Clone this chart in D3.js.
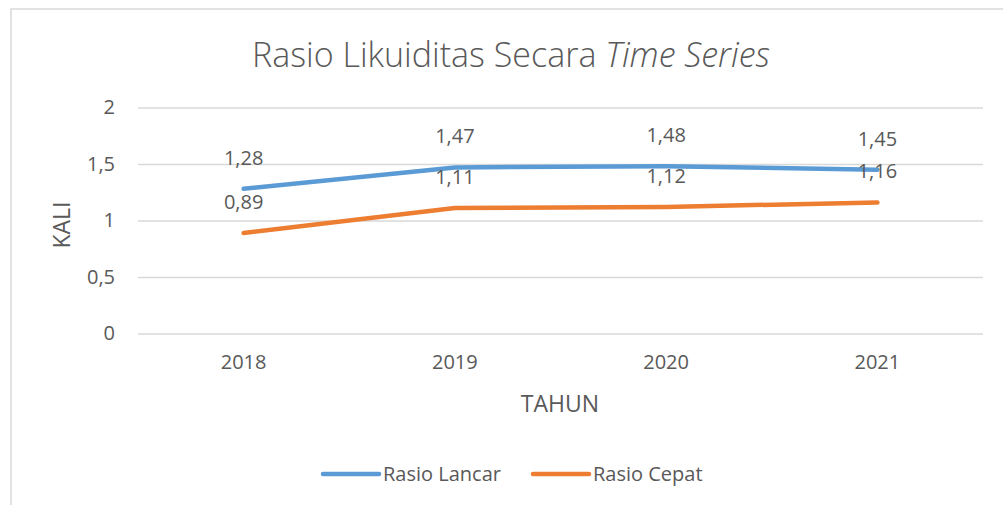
<!DOCTYPE html>
<html>
<head>
<meta charset="utf-8">
<script src="https://cdn.jsdelivr.net/npm/d3@7"></script>
<style>
  body { margin: 0; background: #fff; }
  text { font-family: "Open Sans", sans-serif; fill: #595959; }
</style>
</head>
<body>
<svg id="chart" width="1003" height="505"></svg>
<script>
const years = ["2018", "2019", "2020", "2021"];
const rasioLancar = [1.28, 1.47, 1.48, 1.45];
const rasioCepat = [0.89, 1.11, 1.12, 1.16];
const yTicks = [0, 0.5, 1, 1.5, 2];
const seriesNames = ["Rasio Lancar", "Rasio Cepat"];
const colors = ["#5B9BD5", "#ED7D31"];

let margin = { top: 107.5, left: 138, right: 20, bottom: 171.5 };
let svgWidth = 1003, svgHeight = 505;
let width = svgWidth - margin.left - margin.right,
  height = svgHeight - margin.top - margin.bottom;

const svg = d3.select("#chart");
const fmt = (v) => String(v).replace(".", ",");

// chart border (right and bottom edges run off the picture)
svg.append("rect")
  .attr("x", 11).attr("y", 9)
  .attr("width", 1010).attr("height", 510)
  .attr("fill", "none")
  .attr("stroke", "#d9d9d9")
  .attr("stroke-width", 1.5);

// title
const title = svg.append("text")
  .attr("x", 511).attr("y", 67)
  .attr("text-anchor", "middle")
  .attr("font-size", "34px")
  .attr("font-weight", 300);
title.append("tspan").text("Rasio Likuiditas Secara ");
title.append("tspan").attr("font-style", "italic").text("Time Series");

const g = svg.append("g")
  .attr("transform", "translate(" + margin.left + "," + margin.top + ")");

let x = d3.scaleBand().domain(years).range([0, width]);
let y = d3.scaleLinear().domain([0, 2]).range([height, 0]);
const cx = (d) => x(d) + x.bandwidth() / 2;

// y axis + gridlines
const yAxis = g.append("g")
  .call(d3.axisLeft(y).tickValues(yTicks).tickFormat(fmt).tickSize(-width).tickPadding(23));
yAxis.select(".domain").remove();
yAxis.selectAll("line").attr("stroke", "#d9d9d9").attr("stroke-width", 1.3);
yAxis.selectAll("text").attr("font-size", "20px").attr("fill", "#595959")
  .style("font-family", "'Open Sans', sans-serif");

// x axis labels
const xAxis = g.append("g")
  .attr("transform", "translate(0," + height + ")")
  .call(d3.axisBottom(x).tickSize(0).tickPadding(21));
xAxis.select(".domain").remove();
xAxis.selectAll("text").attr("font-size", "20px").attr("fill", "#595959")
  .style("font-family", "'Open Sans', sans-serif");

// axis titles
svg.append("text")
  .attr("transform", "translate(70,225) rotate(-90)")
  .attr("text-anchor", "middle")
  .attr("font-size", "23px")
  .text("KALI");
svg.append("text")
  .attr("x", 560).attr("y", 412)
  .attr("text-anchor", "middle")
  .attr("font-size", "23px")
  .text("TAHUN");

// lines
const line = d3.line().x((d, i) => cx(years[i])).y((d) => y(d));
[rasioLancar, rasioCepat].forEach((vals, s) => {
  g.append("path")
    .datum(vals)
    .attr("d", line)
    .attr("fill", "none")
    .attr("stroke", colors[s])
    .attr("stroke-width", 4.5)
    .attr("stroke-linecap", "round")
    .attr("stroke-linejoin", "round");
});

// data labels
[rasioLancar, rasioCepat].forEach((vals) => {
  g.selectAll(null)
    .data(vals)
    .enter()
    .append("text")
    .attr("x", (d, i) => cx(years[i]))
    .attr("y", (d) => y(d) - 24)
    .attr("text-anchor", "middle")
    .attr("font-size", "20px")
    .attr("fill", "#404040")
    .text(fmt);
});

// legend
const legendX = [323, 533];
seriesNames.forEach((name, i) => {
  svg.append("line")
    .attr("x1", legendX[i]).attr("x2", legendX[i] + 56)
    .attr("y1", 474).attr("y2", 474)
    .attr("stroke", colors[i])
    .attr("stroke-width", 4.5)
    .attr("stroke-linecap", "round");
  svg.append("text")
    .attr("x", legendX[i] + 60).attr("y", 481)
    .attr("font-size", "20px")
    .text(name);
});
</script>
</body>
</html>
